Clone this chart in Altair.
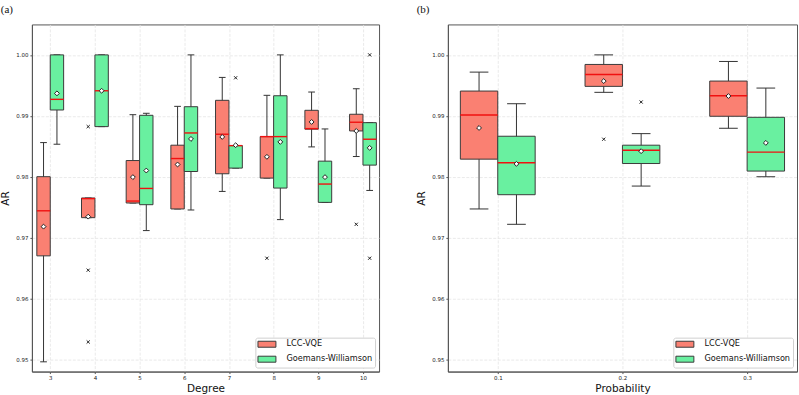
import altair as alt
import pandas as pd

METHODS = ["LCC-VQE", "Goemans-Williamson"]
COLORS = ["#FA8072", "#69F0A0"]

# ---- (a) approximation ratio versus graph degree ----
degrees = [3, 4, 5, 6, 7, 8, 9, 10]

lcc_deg_low = [0.9496, 0.97327, 0.97568, 0.97470, 0.97758, 0.97977, 0.98489, 0.98331]
lcc_deg_q1 = [0.9670, 0.97327, 0.97568, 0.97470, 0.98048, 0.97977, 0.98780, 0.98751]
lcc_deg_med = [0.9744, 0.97640, 0.97600, 0.98298, 0.98697, 0.98658, 0.98789, 0.98894]
lcc_deg_q3 = [0.9800, 0.97650, 0.98265, 0.98517, 0.99254, 0.98658, 0.99090, 0.99025]
lcc_deg_high = [0.98560, 0.97650, 0.99018, 0.99155, 0.99630, 0.99336, 0.99390, 0.99444]
lcc_deg_mean = [0.9718, 0.97344, 0.97993, 0.98200, 0.98653, 0.98326, 0.98899, 0.98751]

gw_deg_low = [0.98533, 0.98822, 0.97115, 0.97453, 0.98141, 0.97295, 0.97578, 0.97774]
gw_deg_q1 = [0.99095, 0.98822, 0.97540, 0.98085, 0.98141, 0.97813, 0.97578, 0.98190]
gw_deg_med = [0.99270, 0.99411, 0.97807, 0.98718, 0.98510, 0.98658, 0.97879, 0.98615]
gw_deg_q3 = [1.0, 1.0, 0.99008, 0.99149, 0.98511, 0.99329, 0.98255, 0.98887]
gw_deg_high = [1.0, 1.0, 0.99041, 1.0, 0.98511, 1.0, 0.98784, 0.98887]
gw_deg_mean = [0.99368, 0.99411, 0.98101, 0.98620, 0.98517, 0.98571, 0.97993, 0.98473]

lcc_deg_outlier_x = [4, 4, 4, 8, 10]
lcc_deg_outlier_y = [0.98822, 0.96465, 0.95286, 0.96661, 0.97218]
gw_deg_outlier_x = [7, 10, 10]
gw_deg_outlier_y = [0.99624, 1.0, 0.96661]

# ---- (b) approximation ratio versus edge probability ----
probs = [0.1, 0.2, 0.3]

lcc_p_low = [0.97470, 0.99385, 0.98795]
lcc_p_q1 = [0.98288, 0.99483, 0.98992]
lcc_p_med = [0.99013, 0.99679, 0.99329]
lcc_p_q3 = [0.99406, 0.99843, 0.99570]
lcc_p_high = [0.99717, 1.0, 0.99892]
lcc_p_mean = [0.98800, 0.99570, 0.99324]

gw_p_low = [0.97218, 0.97846, 0.97999]
gw_p_q1 = [0.97704, 0.98216, 0.98092]
gw_p_med = [0.98228, 0.98435, 0.98403]
gw_p_q3 = [0.98664, 0.98517, 0.98975]
gw_p_high = [0.99198, 0.98707, 0.99455]
gw_p_mean = [0.98211, 0.98419, 0.98555]

lcc_p_outlier_x = [0.2]
lcc_p_outlier_y = [0.98615]
gw_p_outlier_x = [0.2]
gw_p_outlier_y = [0.99226]

y_ticks = [0.95, 0.96, 0.97, 0.98, 0.99, 1.00]
y_domain = [0.948, 1.005]


def stats_frame(cats, method, low, q1, med, q3, high, mean):
    return pd.DataFrame({
        "cat": cats, "method": method, "low": low, "q1": q1, "med": med,
        "q3": q3, "high": high, "mean": mean,
    })


def outlier_frame(xs, ys, method):
    return pd.DataFrame({"cat": xs, "method": method, "value": ys})


X_SHAPE = "M-1,-1L1,1M-1,1L1,-1"
# flat legend swatch, 18 x 6 px at a nominal symbol size of 4
SWATCH = "M-9,-3L9,-3L9,3L-9,3Z"

LEGEND_STYLE = dict(
    symbolType=SWATCH, symbolSize=4, symbolOffset=5,
    symbolStrokeColor="#3a3a3a", symbolStrokeWidth=1,
    labelFont="DejaVu Sans", labelFontSize=8.2, labelColor="#111",
    labelOffset=15.5, rowPadding=4, padding=2.5,
    fillColor="white", strokeColor="#d0d0d0", cornerRadius=2,
)


def panel(stats, outliers, width, box_w, x_domain, x_ticks, x_fmt, x_title, tag):
    xscale = alt.Scale(domain=x_domain, nice=False, zero=False)
    yscale = alt.Scale(domain=y_domain, nice=False, zero=False)
    xaxis = alt.Axis(values=x_ticks, format=x_fmt, title=x_title)
    yaxis = alt.Axis(values=y_ticks, format=".2f", title="AR")

    def X(f):
        return alt.X(f"{f}:Q", scale=xscale, axis=xaxis)

    def Y(f):
        return alt.Y(f"{f}:Q", scale=yscale, axis=yaxis)

    left_edge = f"datum.cat + (datum.method === 'LCC-VQE' ? {-box_w} : 0)"
    base = alt.Chart(stats).transform_calculate(x0=left_edge).transform_calculate(
        x1=f"datum.x0 + {box_w}",
        xc=f"datum.x0 + {box_w / 2}",
        c0=f"datum.x0 + {box_w / 4}",
        c1=f"datum.x0 + {3 * box_w / 4}",
    )

    whisker = base.mark_rule(color="#333", strokeWidth=1).encode(
        x=X("xc"), y=Y("low"), y2="high:Q")
    cap_low = base.mark_rule(color="#333", strokeWidth=1).encode(
        x=X("c0"), x2="c1:Q", y=Y("low"))
    cap_high = base.mark_rule(color="#333", strokeWidth=1).encode(
        x=X("c0"), x2="c1:Q", y=Y("high"))
    box = base.mark_rect(stroke="#3a3a3a", strokeWidth=1).encode(
        x=X("x0"), x2="x1:Q", y=Y("q1"), y2="q3:Q",
        fill=alt.Fill(
            "method:N",
            scale=alt.Scale(domain=METHODS, range=COLORS),
            legend=alt.Legend(title=None, orient="bottom-right", offset=4,
                              **LEGEND_STYLE),
        ),
    )
    median = base.mark_rule(color="#f01010", strokeWidth=1.4).encode(
        x=X("x0"), x2="x1:Q", y=Y("med"))
    mean = base.mark_point(shape="diamond", filled=True, fill="white",
                           stroke="#222", strokeWidth=1, size=24, opacity=1).encode(
        x=X("xc"), y=Y("mean"))
    fliers = alt.Chart(outliers).transform_calculate(
        xc=f"datum.cat + (datum.method === 'LCC-VQE' ? {-box_w / 2} : {box_w / 2})"
    ).mark_point(shape=X_SHAPE, filled=False, stroke="#222", strokeWidth=1,
                 size=10, opacity=1).encode(x=X("xc"), y=Y("value"))

    return alt.layer(whisker, cap_low, cap_high, box, median, mean, fliers).properties(
        width=width, height=348,
        title=alt.TitleParams(tag, anchor="start", frame="bounds"),
    )


deg_stats = pd.concat([
    stats_frame(degrees, METHODS[0], lcc_deg_low, lcc_deg_q1, lcc_deg_med,
                lcc_deg_q3, lcc_deg_high, lcc_deg_mean),
    stats_frame(degrees, METHODS[1], gw_deg_low, gw_deg_q1, gw_deg_med,
                gw_deg_q3, gw_deg_high, gw_deg_mean),
])
deg_out = pd.concat([
    outlier_frame(lcc_deg_outlier_x, lcc_deg_outlier_y, METHODS[0]),
    outlier_frame(gw_deg_outlier_x, gw_deg_outlier_y, METHODS[1]),
])
p_stats = pd.concat([
    stats_frame(probs, METHODS[0], lcc_p_low, lcc_p_q1, lcc_p_med,
                lcc_p_q3, lcc_p_high, lcc_p_mean),
    stats_frame(probs, METHODS[1], gw_p_low, gw_p_q1, gw_p_med,
                gw_p_q3, gw_p_high, gw_p_mean),
])
p_out = pd.concat([
    outlier_frame(lcc_p_outlier_x, lcc_p_outlier_y, METHODS[0]),
    outlier_frame(gw_p_outlier_x, gw_p_outlier_y, METHODS[1]),
])

left = panel(deg_stats, deg_out, 348, 0.3, [2.59, 10.36], degrees, "d", "Degree", "(a)")
right = panel(p_stats, p_out, 350, 0.03, [0.06, 0.34], probs, ".1f", "Probability", "(b)")

chart = alt.hconcat(left, right, spacing=69, bounds="flush").resolve_scale(
    x="independent", y="independent"
).resolve_legend(fill="independent").properties(
    padding={"left": 0, "top": 3, "right": 1, "bottom": 1},
    background="white",
).configure_view(
    stroke="#555", strokeWidth=1,
).configure_axis(
    labelFont="DejaVu Sans", labelFontSize=5.5, labelColor="#222", labelPadding=2,
    titleFont="DejaVu Sans", titleFontSize=10.5, titleFontWeight="normal",
    titleColor="#111", titlePadding=5,
    domainColor="#555", domainWidth=1, tickColor="#555", tickSize=2,
    gridColor="#e4e4e4", gridWidth=0.8, gridDash=[3, 1.5],
).configure_axisX(
    titlePadding=2,
).configure_legend(
    **LEGEND_STYLE
).configure_title(
    font="Liberation Serif", fontSize=11, fontWeight="normal", color="#111",
    offset=9,
)

chart.save("out.html", embed_options={"renderer": "svg", "actions": False})
